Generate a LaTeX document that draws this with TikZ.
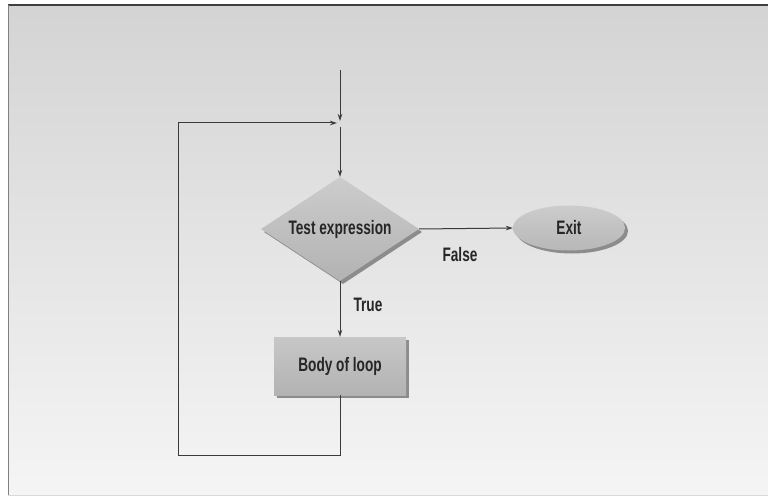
\documentclass[tikz,border=0pt]{standalone}
\usepackage{fontspec}
\setmainfont{Liberation Sans}[FakeStretch=0.7]
\usetikzlibrary{shapes.geometric,arrows.meta,shadows}
\definecolor{linec}{HTML}{3A3A3A}
\definecolor{txtc}{HTML}{262626}
\begin{document}
\begin{tikzpicture}[x=1pt,y=-1pt,
  lbl/.style={font=\fontsize{19.5}{24}\selectfont\bfseries, text=txtc},
  conn/.style={draw=linec, line width=1pt},
  arr/.style={conn, -{Stealth[length=7pt,width=4.5pt]}},
  shapebox/.style={lbl, draw=none, inner sep=0pt,
     drop shadow={shadow xshift=3pt, shadow yshift=-3pt, fill=black!45, opacity=1}}
]
\useasboundingbox (0,0) rectangle (768,497);
\fill[white] (0,0) rectangle (768,497);
\shade[top color=black!17, bottom color=black!4] (8,5) rectangle (768,495);
\draw[black!75, line width=1.4pt] (8,5) -- (768,5);
\draw[black!50, line width=1pt] (8,5) -- (8,495);
\draw[black!15, line width=0.8pt] (8,495) -- (768,495);

\node[shapebox, diamond, aspect=1.51, minimum width=158pt, minimum height=104pt,
      top color=black!20, bottom color=black!30] (test) at (340,229) {Test expression};
\node[shapebox, ellipse, minimum width=112pt, minimum height=45pt,
      top color=black!20, bottom color=black!28] (exit) at (569,228) {Exit};
\node[shapebox, rectangle, minimum width=132pt, minimum height=58pt,
      top color=black!22, bottom color=black!30] (body) at (340,366) {Body of loop};

\node[lbl] (false) at (460,255) {False};
\node[lbl] (true) at (368,305) {True};

\coordinate (start) at (340,70);
\coordinate (junc) at (340,123);
\coordinate (bl) at (340,455);
\coordinate (br) at (178,455);
\coordinate (tl) at (178,123);

\draw[arr, shorten >=2pt] (start) -- (junc);
\draw[arr] (junc) ++(0,4) -- (test.north);
\draw[arr] (test.east) -- (exit.west);
\draw[arr] (test.south) -- (body.north);
\draw[arr, shorten >=3pt] (body.south) -- (bl) -- (br) -- (tl) -- (junc);
\end{tikzpicture}
\end{document}
